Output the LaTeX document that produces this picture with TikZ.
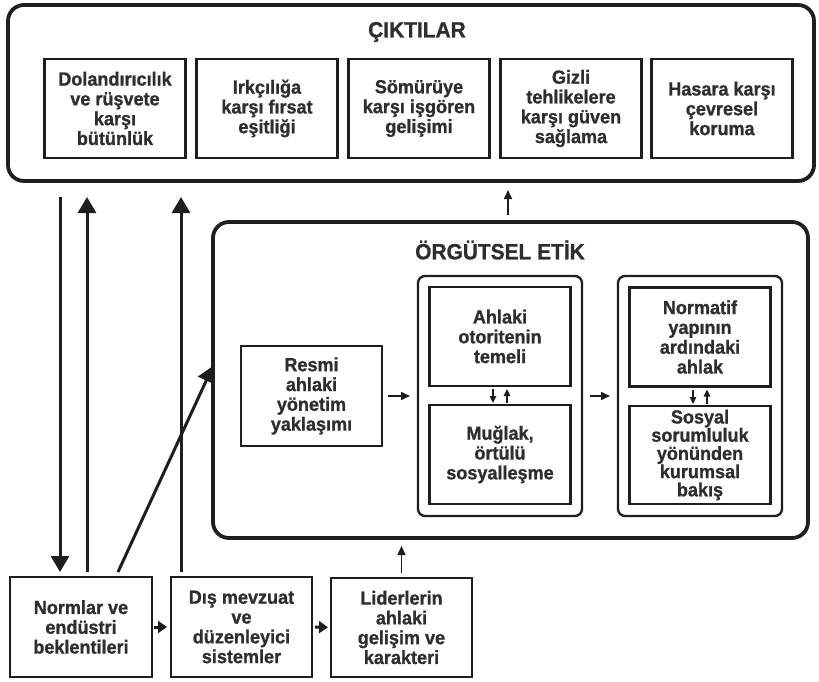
\documentclass[tikz,border=0pt]{standalone}
\usepackage{fontspec}
\setmainfont{Liberation Sans}
\newfontface\heavyface{Liberation Sans Bold}[FakeBold=1.0,FakeStretch=0.95]
\usetikzlibrary{arrows.meta}
\definecolor{ink}{HTML}{1E1E1E}
\definecolor{txt}{HTML}{2E2E2E}

\begin{document}
\begin{tikzpicture}[x=1pt,y=-1pt,
  every node/.style={inner sep=0pt, outer sep=0pt},
  framebox/.style={draw=ink, line width=2.3pt, align=center, text=txt,
    font=\heavyface\fontsize{19}{19.8}\selectfont,
    minimum width=141pt, minimum height=99pt},
  panel/.style={draw=ink, line width=3.8pt, rounded corners=16pt},
  groupbox/.style={draw=ink, line width=2.3pt, rounded corners=7pt,
    minimum width=164pt, minimum height=240pt},
  headline/.style={text=txt, font=\heavyface\fontsize{22}{24}\selectfont},
  bigarrow/.style={draw=ink, line width=3pt, -{Triangle[width=18pt,length=16pt]}},
  midarrow/.style={draw=ink, line width=3pt, -{Triangle[width=12pt,length=9pt]}},
  thinarrow/.style={draw=ink, line width=1.6pt, -{Triangle[width=8pt,length=9pt]}},
  tinyarrow/.style={draw=ink, line width=1.4pt, -{Triangle[width=6.5pt,length=7pt]}},
]
\useasboundingbox (0,0) rectangle (819,682);

% ---- outputs panel ----
\node[panel, minimum width=806pt, minimum height=176pt] (out) at (411,93) {};
\node[headline] (outtitle) at (417,32) {ÇIKTILAR};
\node[framebox] (o1) at (115,108.5) {Dolandırıcılık\\ve rüşvete\\karşı\\bütünlük};
\node[framebox] (o2) at (267,108.5) {Irkçılığa\\karşı fırsat\\eşitliği};
\node[framebox] (o3) at (419,108.5) {Sömürüye\\karşı işgören\\gelişimi};
\node[framebox] (o4) at (571,108.5) {Gizli\\tehlikelere\\karşı güven\\sağlama};
\node[framebox] (o5) at (722,108.5) {Hasara karşı\\çevresel\\koruma};

% ---- organisational ethics panel ----
\node[panel, minimum width=595pt, minimum height=316pt] (org) at (510.5,380) {};
\node[headline] (orgtitle) at (500,250) {ÖRGÜTSEL ETİK};
\node[framebox, minimum height=100pt] (resmi) at (311.5,396) {Resmi\\ahlaki\\yönetim\\yaklaşımı};

\node[groupbox] (g1) at (500,396) {};
\node[framebox] (ahl) at (500,336.5) {Ahlaki\\otoritenin\\temeli};
\node[framebox] (mug) at (500,454.5) {Muğlak,\\örtülü\\sosyalleşme};

\node[groupbox] (g2) at (700,396) {};
\node[framebox] (nor) at (700,337) {Normatif\\yapının\\ardındaki\\ahlak};
\node[framebox, minimum height=98pt, font=\heavyface\fontsize{19}{18.2}\selectfont] (sos) at (700,455) {Sosyal\\sorumluluk\\yönünden\\kurumsal\\bakış};

% ---- driving factors ----
\node[framebox, minimum width=142pt, minimum height=100pt] (norm) at (81,627) {Normlar ve\\endüstri\\beklentileri};
\node[framebox, minimum height=100pt] (dis) at (241.5,627) {Dış mevzuat\\ve\\düzenleyici\\sistemler};
\node[framebox, minimum height=99pt] (lid) at (401.5,627.5) {Liderlerin\\ahlaki\\gelişim ve\\karakteri};

% ---- connectors ----
\coordinate (dn) at (60,197);
\coordinate (up1) at (87,197);
\coordinate (up2) at (181,197);
\coordinate (diag) at (118,572);
\coordinate (diagy) at (0,366);

\draw[bigarrow, shorten >=5pt] (dn) -- (dn |- norm.north);
\draw[bigarrow, shorten <=5pt] (up1 |- norm.north) -- (up1);
\draw[bigarrow, shorten <=5pt] (up2 |- dis.north) -- (up2);
\draw[bigarrow] (diag) -- (org.west |- diagy);

\draw[midarrow, shorten <=2pt, shorten >=4pt] (norm.east) -- (dis.west);
\draw[midarrow, shorten <=3pt, shorten >=3pt] (dis.east) -- (lid.west);

\draw[thinarrow, shorten <=5pt, shorten >=8pt] (lid.north) -- (lid.north |- org.south);
\coordinate (oa) at (508,215);
\draw[thinarrow, shorten >=9pt] (oa) -- (oa |- out.south);

\draw[thinarrow, shorten <=6pt, shorten >=8pt] (resmi.east) -- (g1.west);
\draw[thinarrow, shorten <=8pt, shorten >=8pt] (g1.east) -- (g2.west);

\coordinate (a1d) at (493,0);
\coordinate (a1u) at (507,0);
\coordinate (a2d) at (693,0);
\coordinate (a2u) at (707,0);
\draw[tinyarrow, shorten <=3pt, shorten >=2pt] (a1d |- ahl.south) -- (a1d |- mug.north);
\draw[tinyarrow, shorten <=2pt, shorten >=3pt] (a1u |- mug.north) -- (a1u |- ahl.south);
\draw[tinyarrow, shorten <=3pt, shorten >=2pt] (a2d |- nor.south) -- (a2d |- sos.north);
\draw[tinyarrow, shorten <=2pt, shorten >=3pt] (a2u |- sos.north) -- (a2u |- nor.south);
\end{tikzpicture}
\end{document}
